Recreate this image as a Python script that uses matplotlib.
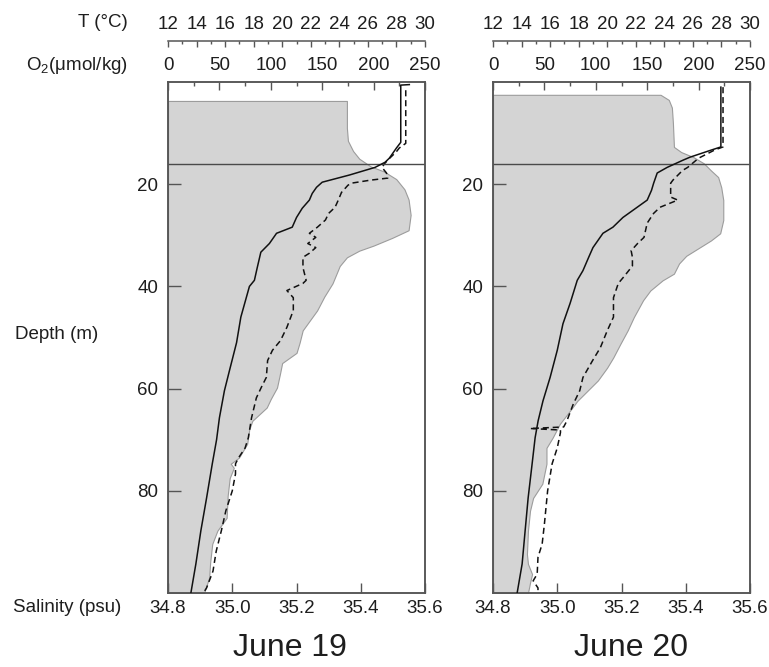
import matplotlib
matplotlib.use("Agg")
import matplotlib.pyplot as plt
from matplotlib.ticker import MultipleLocator

plt.rcParams['font.family'] = ['Liberation Sans', 'DejaVu Sans']
plt.rcParams['mathtext.fontset'] = 'custom'
plt.rcParams['mathtext.rm'] = 'Liberation Sans'

# ---- June 19 profiles (depth in m) ----
o2_depth_19 = [3.7, 6, 9, 11.5, 13.5, 15, 16.5, 17.5, 19, 21, 23, 26, 29, 30.5, 32, 33, 34.3, 36,
               39.4, 42, 44.7, 48.6, 51, 53, 55, 57, 59.8, 62, 63.7, 66.3, 68, 70.8, 73.5, 74.7,
               75.5, 77.5, 81, 85.3, 87.8, 90.4, 94, 97, 100]
o2_19 = [174, 174, 174, 175, 180, 186, 197, 210, 222, 230, 234, 236, 234, 218, 200, 186, 174, 167,
         160, 152, 145, 131, 128, 125, 111, 109, 106, 100, 96, 82, 79, 77, 69, 61,
         64, 60, 58, 57, 48, 43, 41, 40, 35]

t_depth_19 = [0.5, 0.6, 5, 11.8, 12.9, 14.9, 15.7, 16.7, 18.2, 19.6, 20.6, 21.8, 23.1, 24.7, 26.5,
              28.4, 29.6, 31.6, 33.3, 36.3, 38.8, 40, 43, 46, 51, 56.5, 60.4, 65.7, 70, 74.7,
              81.4, 87.8, 94.3, 100]
t_19 = [28.9, 28.3, 28.3, 28.3, 28.0, 27.5, 27.2, 26.5, 24.7, 22.8, 22.4, 22.1, 21.9, 21.4, 21.0,
        20.7, 19.6, 19.1, 18.5, 18.25, 18.05, 17.7, 17.4, 17.1, 16.8, 16.3, 15.95, 15.6, 15.4,
        15.1, 14.7, 14.3, 13.95, 13.6]

s_depth_19 = [1.6, 6, 12, 12.9, 13.7, 14.9, 15.9, 16.7, 17.8, 18.8, 19.2, 19.8, 20.2, 21.6, 23.1,
              24.5, 25.7, 27, 28.4, 29.6, 30.4, 31.6, 32.4, 33.5, 34.3, 36.3, 38.8, 39.4, 40.8,
              42.2, 44.7, 48, 50.6, 52.5, 54.5, 57.8, 59.8, 61.8, 65.7, 69.6, 71.6, 73.5, 74.7,
              76.7, 80, 83.9, 87.8, 91.8, 95.7, 99, 100]
s_19 = [35.54, 35.54, 35.54, 35.52, 35.51, 35.49, 35.475, 35.466, 35.48, 35.484, 35.43, 35.37,
        35.36, 35.34, 35.33, 35.32, 35.30, 35.29, 35.265, 35.24, 35.26, 35.235, 35.26, 35.24,
        35.22, 35.22, 35.23, 35.22, 35.17, 35.19, 35.19, 35.17, 35.15, 35.125, 35.11, 35.106,
        35.09, 35.075, 35.06, 35.05, 35.04, 35.02, 35.01, 35.01, 35.0, 34.98, 34.966, 34.95,
        34.94, 34.92, 34.91]

# ---- June 20 profiles ----
o2_depth_20 = [2.5, 3.5, 5, 8, 12.7, 13.7, 14.7, 15.9, 17.3, 18.6, 20.6, 23.1, 27, 29.6, 31, 32.5,
               34, 35.5, 37.5, 38.8, 40.8, 42.7, 46, 48.6, 51.2, 53.9, 55.9, 58.4, 60.4, 62.4,
               64.3, 66.9, 69.6, 71.6, 74.7, 78.6, 81.4, 83.9, 87.8, 92.4, 94.3, 96.3, 98, 100]
o2_20 = [163, 171, 174, 175, 176, 183, 195, 205, 212, 219, 222, 224, 224, 221, 212, 200,
         188, 181, 176, 165, 153, 146, 137, 131, 124, 117, 111, 102, 92, 82,
         75, 65, 58, 52, 52, 48, 39, 36, 34, 33, 34, 38, 36, 34]

t_depth_20 = [1, 12.7, 13.3, 14.7, 15.3, 16.7, 17.8, 19.8, 21.2, 23.1, 24.5, 26.5, 28.4, 29.6,
              32.4, 34.3, 36.9, 38.8, 43.3, 47.3, 52.5, 57.8, 62.4, 66.3, 69.6, 74.7, 81.4,
              87.8, 94.3, 100]
t_20 = [27.96, 27.96, 27.3, 25.8, 25.3, 24.2, 23.5, 23.25, 23.1, 22.8, 22.1, 21.1, 20.4, 19.7,
        19.0, 18.7, 18.3, 17.9, 17.4, 16.9, 16.5, 16.0, 15.5, 15.16, 14.95, 14.74, 14.46,
        14.25, 14.04, 13.69]

s_depth_20 = [1, 12.7, 13.3, 14.9, 16.7, 17.3, 19.2, 19.8, 22.5, 23.1, 24.5, 25.7, 27.6, 30.4,
              31.6, 33, 34.3, 36, 38.2, 39.4, 42.2, 46, 48.6, 52, 54.5, 57.8, 60.4, 63, 66.3,
              67.5, 67.8, 68.1, 68.6, 71.6, 74.7, 80, 86.5, 90.4, 93, 96.3, 97.6, 99, 100]
s_20 = [35.516, 35.516, 35.49, 35.44, 35.406, 35.39, 35.36, 35.353, 35.353, 35.375, 35.32, 35.3,
        35.28, 35.27, 35.25, 35.23, 35.234, 35.234, 35.206, 35.19, 35.175, 35.175, 35.156,
        35.134, 35.11, 35.08, 35.07, 35.05, 35.03, 35.02, 34.915, 35.01, 35.01, 35.0, 34.984,
        34.97, 34.96, 34.953, 34.94, 34.9375, 34.925, 34.94, 34.94]

mixed_layer = 16   # horizontal reference line, m
depth_ticks = [20, 40, 60, 80]
sal_ticks = [34.8, 35.0, 35.2, 35.4, 35.6]
o2_ticks = [0, 50, 100, 150, 200, 250]
t_ticks = [12, 14, 16, 18, 20, 22, 24, 26, 28, 30]

spine_c = "#555555"
text_c = "#1e1e1e"
fs = 13.5

fig = plt.figure(figsize=(7.69, 6.67), dpi=100)


def panel(left, o2_d, o2, t_d, t, s_d, s):
    ax = fig.add_axes([left, 0.1109, 0.3342, 0.7661])
    ax_o2 = ax.twiny()
    ax_t = ax.twiny()
    ax_o2.set_zorder(1)
    ax.set_zorder(2)
    ax_t.set_zorder(3)
    ax.patch.set_visible(False)

    # oxygen as grey fill
    ax_o2.fill_betweenx(o2_d, 0, o2, facecolor="#d4d4d4", edgecolor="#9c9c9c", lw=0.8)
    ax_o2.set_xlim(0, 250)
    ax_o2.set_xticks(o2_ticks)
    ax_o2.xaxis.set_minor_locator(MultipleLocator(25))
    ax_o2.tick_params(axis="x", which="major", direction="in", length=6, width=1,
                      color=spine_c, labelsize=fs, labelcolor=text_c, pad=6)
    ax_o2.tick_params(axis="x", which="minor", direction="in", length=3, width=1, color=spine_c)

    # salinity dashed, depth line
    ax.plot(s, s_d, color="#111111", lw=1.1, ls=(0, (4, 2.5)))
    ax.axhline(mixed_layer, color="#4a4a4a", lw=1)
    ax.set_xlim(34.8, 35.6)
    ax.set_ylim(100, 0)
    ax.set_xticks(sal_ticks)
    ax.set_xticklabels([f"{v:.1f}" for v in sal_ticks])
    ax.set_yticks(depth_ticks)
    ax.tick_params(axis="x", direction="in", length=7, width=1, color=spine_c,
                   labelsize=fs, labelcolor=text_c, pad=5)
    ax.tick_params(axis="y", direction="in", length=9, width=1, color=spine_c,
                   labelsize=fs, labelcolor=text_c, pad=7)

    # temperature solid, on a raised top axis
    ax_t.plot(t, t_d, color="#111111", lw=1.1)
    ax_t.set_xlim(12, 30)
    ax_t.set_xticks(t_ticks)
    ax_t.xaxis.set_minor_locator(MultipleLocator(1))
    ax_t.spines["top"].set_position(("outward", 29.5))
    for side in ["left", "right", "bottom"]:
        ax_t.spines[side].set_visible(False)
    ax_t.tick_params(axis="x", which="major", direction="in", length=4, width=1,
                     color=spine_c, labelsize=fs, labelcolor=text_c, pad=6)
    ax_t.tick_params(axis="x", which="minor", direction="in", length=2.2, width=1, color=spine_c)

    for a in (ax, ax_o2, ax_t):
        for sp in a.spines.values():
            sp.set_color(spine_c)
            sp.set_linewidth(1.1)


panel(0.2185, o2_depth_19, o2_19, t_depth_19, t_19, s_depth_19, s_19)
panel(0.6411, o2_depth_20, o2_20, t_depth_20, t_20, s_depth_20, s_20)

fig.text(0.166, 0.967, "T (°C)", ha="right", va="center", fontsize=fs, color=text_c)
fig.text(0.1665, 0.9025, r"O$_\mathregular{2}$(μmol/kg)", ha="right", va="center",
         fontsize=fs, color=text_c)
fig.text(0.128, 0.498, "Depth (m)", ha="right", va="center", fontsize=fs, color=text_c)
fig.text(0.158, 0.0885, "Salinity (psu)", ha="right", va="center", fontsize=fs, color=text_c)
fig.text(0.377, 0.0285, "June 19", ha="center", va="center", fontsize=23, color=text_c)
fig.text(0.8205, 0.0285, "June 20", ha="center", va="center", fontsize=23, color=text_c)

fig.savefig("out.png", dpi=100)
